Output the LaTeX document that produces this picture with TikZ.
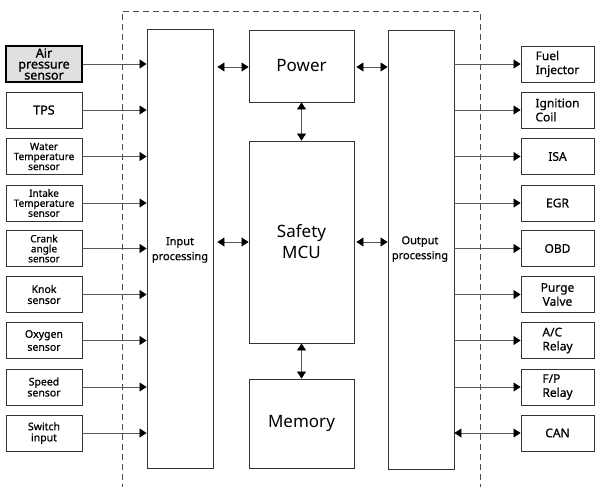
\documentclass[tikz,border=0pt]{standalone}
\usepackage{fontspec}
\setmainfont{Noto Sans}
\newfontfamily\medfont{Noto Sans}[FakeBold=0.6]
\newfontfamily\semfont{Noto Sans}[FakeBold=1.2]
\usetikzlibrary{arrows.meta}
\begin{document}
\begin{tikzpicture}[x=1pt,y=-1pt,
  box/.style={draw=black!80, line width=0.9pt, rectangle, inner sep=0pt, align=center},
  sens/.style={box, minimum width=76pt, minimum height=36pt, font=\medfont\fontsize{10.5}{11}\selectfont},
  act/.style={box, minimum width=73pt, minimum height=36pt, font=\medfont\fontsize{12}{14}\selectfont},
  blk/.style={box, minimum width=105pt, font=\fontsize{17}{21}\selectfont},
  proc/.style={box, minimum width=66pt, minimum height=439pt},
  plab/.style={font=\medfont\fontsize{11}{15}\selectfont, align=center},
  arr/.style={draw=black!65, line width=0.8pt, -{Triangle[length=7pt,width=9pt,color=black]}},
  darr/.style={draw=black!65, line width=0.8pt, {Triangle[length=7pt,width=9pt,color=black]}-{Triangle[length=7pt,width=9pt,color=black]}},
  frame/.style={draw=black!70, line width=0.9pt, dash pattern=on 6pt off 4pt}
]
\useasboundingbox (0,0) rectangle (595,487);
\clip (0,0) rectangle (595,487);

% dashed frame
\draw[frame] (122,500) -- (122,11) -- (480,11) -- (480,500);

% main blocks
\node[proc] (in)  at (180,248.5) {};
\node[plab] (inlab) at (180,250) {Input\\processing};
\node[proc] (out) at (421,249.5) {};
\node[plab] (outlab) at (420,249) {Output\\processing};
\node[blk, minimum height=72pt] (pw) at (301.5,66) {Power};
\node[blk, minimum height=202pt] (mcu) at (301.5,242) {Safety\\MCU};
\node[blk, minimum height=89pt] (mem) at (301.5,423.5) {Memory};

% sensors
\node[sens, fill=black!12, line width=1.8pt, draw=black, font=\semfont\fontsize{12.5}{11}\selectfont] (s1) at (44,64) {Air\\pressure\\sensor};
\node[sens, font=\semfont\fontsize{12.5}{14}\selectfont] (s2) at (44,110) {TPS};
\node[sens, font=\medfont\fontsize{10}{10}\selectfont] (s3) at (44,156.5) {Water\\Temperature\\sensor};
\node[sens, font=\medfont\fontsize{10}{10}\selectfont] (s4) at (44,203) {Intake\\Temperature\\sensor};
\node[sens, font=\medfont\fontsize{10}{10}\selectfont] (s5) at (44,248.5) {Crank\\angle\\sensor};
\node[sens] (s6) at (44,294.5) {Knok\\sensor};
\node[sens, font=\medfont\fontsize{10.5}{13}\selectfont] (s7) at (44,340.5) {Oxygen\\sensor};
\node[sens] (s8) at (44,387) {Speed\\sensor};
\node[sens] (s9) at (44,433) {Switch\\input};

% actuators
\node[act, align=left] (a1) at (557.5,64) {Fuel\\Injector};
\node[act, align=left] (a2) at (557.5,110) {Ignition\\Coil};
\node[act] (a3) at (557.5,156.5) {ISA};
\node[act] (a4) at (557.5,203) {EGR};
\node[act] (a5) at (557.5,248.5) {OBD};
\node[act] (a6) at (557.5,294.5) {Purge\\Valve};
\node[act, align=left] (a7) at (557.5,340.5) {A/C\\Relay};
\node[act, align=left] (a8) at (557.5,387) {F/P\\Relay};
\node[act] (a9) at (557.5,433) {CAN};

% sensor -> input
\foreach \i in {1,...,9}{
  \draw[arr] (s\i.east) -- (s\i.east -| in.west);
}
% output -> actuators
\foreach \i in {1,...,8}{
  \draw[arr] (a\i.west -| out.east) -- (a\i.west);
}
\draw[darr] (a9.west -| out.east) -- (a9.west);

% internal connections
\draw[darr] ([xshift=4pt]in.east |- 0,67) -- (pw.west |- 0,67);
\draw[darr] ([xshift=2pt]pw.east |- 0,67) -- (out.west |- 0,67);
\draw[darr] ([xshift=4pt]in.east |- 0,242) -- (mcu.west |- 0,242);
\draw[darr] ([xshift=2pt]mcu.east |- 0,242) -- (out.west |- 0,242);
\draw[darr] (pw.south) -- (mcu.north);
\draw[darr] (mcu.south) -- (mem.north);
\end{tikzpicture}
\end{document}
